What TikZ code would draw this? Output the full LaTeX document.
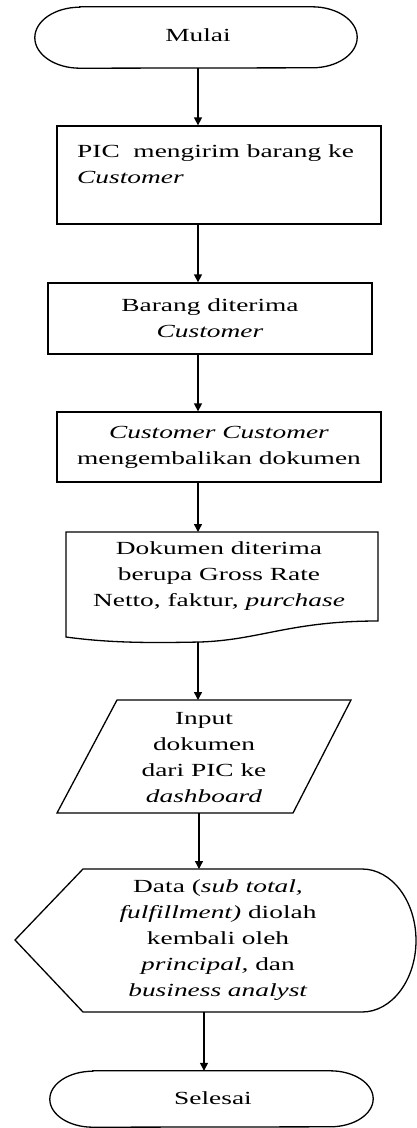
\documentclass[tikz,border=0pt]{standalone}
\usepackage{fontspec}
\setmainfont{Liberation Serif}[FakeStretch=1.48]
\usetikzlibrary{arrows.meta,calc}
\tikzset{
  txt/.style={font=\fontsize{18.5}{26}\selectfont, align=center, inner sep=0pt},
  shp/.style={draw, line width=1.3pt},
  arr/.style={line width=1.3pt, -{Triangle[width=8pt,length=8pt]}},
}
\begin{document}
\begin{tikzpicture}[x=1pt,y=-1pt]
\useasboundingbox (0,0) rectangle (417,1128);

% Mulai (terminal)
\node[minimum width=322pt, minimum height=61pt, inner sep=0pt] (mulai) at (196,37.5) {};
\node[txt] (tmulai) at (198,35) {Mulai};
\draw[shp] ([xshift=45pt]mulai.north west) -- ([xshift=-45pt]mulai.north east)
  arc[start angle=90,end angle=-90,x radius=45pt,y radius=30.5pt]
  -- ([xshift=45pt]mulai.south west)
  arc[start angle=270,end angle=90,x radius=45pt,y radius=30.5pt] -- cycle;

% Box 1
\node[shp, minimum width=324pt, minimum height=98pt, inner sep=0pt] (box1) at (219,175) {};
\node[txt, align=left, anchor=north west] (t1) at (77,144) {PIC\ \ mengirim barang ke\\\textit{Customer}};

% Box 2
\node[shp, txt, minimum width=324pt, minimum height=71pt] (box2) at (210,318.5) {Barang diterima\\\textit{Customer}};

% Box 3
\node[shp, txt, minimum width=324pt, minimum height=70pt] (box3) at (219,447) {\textit{Customer Customer}\\mengembalikan dokumen};

% Document
\draw[shp] (66,532) -- (378,532) -- (378,621)
  .. controls (290,621) and (260,640) .. (200,642)
  .. controls (150,643) and (110,643) .. (66,637) -- cycle;
\node[txt] (doc) at (219,576) {Dokumen diterima\\berupa Gross Rate\\Netto, faktur, \textit{purchase}};
\coordinate (doctop) at (198,532);
\coordinate (docbot) at (198,642);

% Parallelogram
\draw[shp] (117,700) -- (351,700) -- (293,813) -- (57,813) -- cycle;
\node[txt] (para) at (204,758) {Input\\dokumen\\dari PIC ke\\\textit{dashboard}};
\coordinate (paratop) at (198,700);
\coordinate (parabot) at (199,813);

% Display
\draw[shp] (15,940) -- (83,869) -- (362,869)
  arc[start angle=90,end angle=-90,x radius=54pt,y radius=71.5pt]
  -- (83,1012) -- cycle;
\node[txt] (disp) at (218,940) {Data (\textit{sub total,}\\\textit{fulfillment)} diolah\\kembali oleh\\\textit{principal,} dan\\\textit{business analyst}};
\coordinate (disptop) at (199,869);
\coordinate (dispbot) at (204,1012);

% Selesai (terminal)
\node[minimum width=323pt, minimum height=56pt, inner sep=0pt] (selesai) at (211.5,1099) {};
\node[txt] (tselesai) at (213,1098) {Selesai};
\draw[shp] ([xshift=43pt]selesai.north west) -- ([xshift=-43pt]selesai.north east)
  arc[start angle=90,end angle=-90,x radius=43pt,y radius=28pt]
  -- ([xshift=43pt]selesai.south west)
  arc[start angle=270,end angle=90,x radius=43pt,y radius=28pt] -- cycle;

% Connectors
\draw[arr] ([xshift=2pt]mulai.south) -- ([xshift=-21pt]box1.north);
\draw[arr] ([xshift=-21pt]box1.south) -- ([xshift=-12pt]box2.north);
\draw[arr] ([xshift=-12pt]box2.south) -- ([xshift=-21pt]box3.north);
\draw[arr] ([xshift=-21pt]box3.south) -- (doctop);
\draw[arr] (docbot) -- (paratop);
\draw[arr] (parabot) -- (disptop);
\draw[arr] (dispbot) -- (dispbot |- selesai.north);
\end{tikzpicture}
\end{document}
